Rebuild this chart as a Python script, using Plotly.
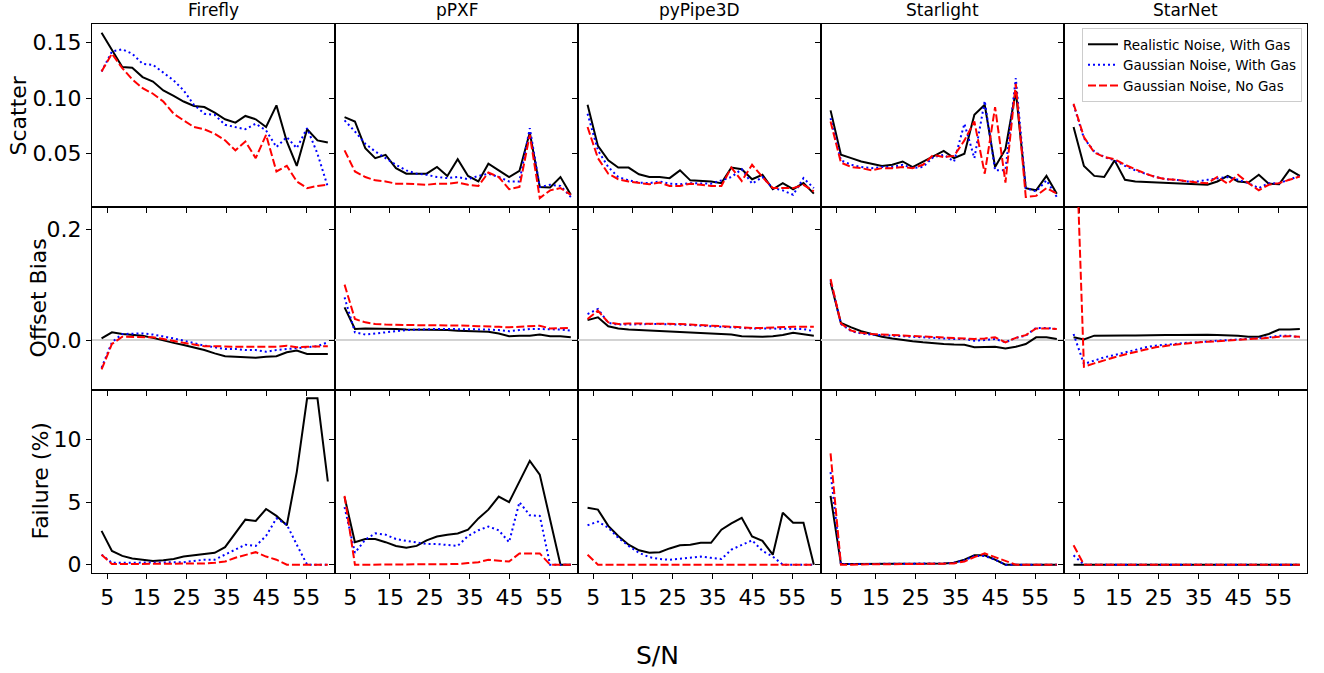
import plotly.graph_objects as go
from plotly.subplots import make_subplots

# ---------------- data ----------------
methods = ["Firefly", "pPXF", "pyPipe3D", "Starlight", "StarNet"]
series_names = ["Realistic Noise, With Gas", "Gaussian Noise, With Gas", "Gaussian Noise, No Gas"]
row_titles = ["Scatter", "Offset Bias", "Failure (%)"]
x_ticks = [5, 15, 25, 35, 45, 55]

sn = [3.6, 6.2, 8.8, 11.3, 13.9, 16.5, 19.1, 21.7, 24.2, 26.8, 29.4, 32.0,
      34.6, 37.2, 39.7, 42.3, 44.9, 47.5, 50.1, 52.6, 55.2, 57.8, 60.4]

# Scatter (row 1)
scatter_firefly_real = [0.159, 0.144, 0.128, 0.1275, 0.119, 0.115, 0.107, 0.102, 0.097, 0.093, 0.092, 0.087,
                        0.081, 0.078, 0.084, 0.081, 0.074, 0.0935, 0.061, 0.039, 0.072, 0.062, 0.060]
scatter_firefly_gwg = [0.124, 0.142, 0.144, 0.140, 0.131, 0.130, 0.123, 0.116, 0.107, 0.094, 0.086, 0.085,
                       0.076, 0.074, 0.072, 0.077, 0.071, 0.056, 0.065, 0.055, 0.073, 0.050, 0.020]
scatter_firefly_gng = [0.124, 0.140, 0.127, 0.117, 0.109, 0.104, 0.097, 0.086, 0.080, 0.074, 0.072, 0.068,
                       0.062, 0.053, 0.061, 0.046, 0.067, 0.034, 0.039, 0.025, 0.019, 0.021, 0.022]

scatter_ppxf_real = [0.083, 0.079, 0.055, 0.046, 0.049, 0.037, 0.032, 0.032, 0.032, 0.038, 0.030, 0.045,
                     0.030, 0.025, 0.041, 0.035, 0.029, 0.0345, 0.069, 0.020, 0.0195, 0.029, 0.013]
scatter_ppxf_gwg = [0.080, 0.070, 0.059, 0.052, 0.046, 0.040, 0.035, 0.032, 0.031, 0.029, 0.028, 0.029,
                    0.027, 0.030, 0.032, 0.029, 0.025, 0.025, 0.073, 0.020, 0.022, 0.021, 0.011]
scatter_ppxf_gng = [0.053, 0.034, 0.029, 0.026, 0.025, 0.023, 0.023, 0.0225, 0.022, 0.023, 0.023, 0.024,
                    0.022, 0.021, 0.033, 0.029, 0.018, 0.020, 0.067, 0.010, 0.017, 0.019, 0.013]

scatter_pypipe_real = [0.094, 0.057, 0.044, 0.0375, 0.0375, 0.0315, 0.029, 0.029, 0.028, 0.035, 0.026, 0.0255,
                       0.025, 0.0235, 0.0375, 0.036, 0.027, 0.031, 0.018, 0.0235, 0.018, 0.0235, 0.014]
scatter_pypipe_gwg = [0.086, 0.053, 0.038, 0.029, 0.026, 0.024, 0.0235, 0.025, 0.023, 0.0225, 0.0235, 0.0235,
                      0.023, 0.026, 0.029, 0.036, 0.023, 0.029, 0.019, 0.017, 0.013, 0.028, 0.019]
scatter_pypipe_gng = [0.074, 0.046, 0.032, 0.027, 0.025, 0.0235, 0.0225, 0.024, 0.021, 0.021, 0.023, 0.022,
                      0.021, 0.021, 0.0375, 0.0255, 0.040, 0.029, 0.019, 0.019, 0.019, 0.022, 0.016]

scatter_starlight_real = [0.089, 0.049, 0.046, 0.043, 0.041, 0.039, 0.040, 0.043, 0.038, 0.043, 0.048, 0.0525,
                          0.046, 0.050, 0.085, 0.094, 0.038, 0.054, 0.1065, 0.019, 0.017, 0.030, 0.014]
scatter_starlight_gwg = [0.082, 0.044, 0.040, 0.038, 0.037, 0.038, 0.038, 0.040, 0.037, 0.038, 0.047, 0.049,
                         0.043, 0.077, 0.046, 0.0975, 0.035, 0.035, 0.118, 0.019, 0.016, 0.026, 0.011]
scatter_starlight_gng = [0.079, 0.042, 0.038, 0.037, 0.035, 0.037, 0.037, 0.038, 0.037, 0.040, 0.049, 0.047,
                         0.048, 0.062, 0.079, 0.032, 0.092, 0.024, 0.113, 0.011, 0.012, 0.019, 0.014]

scatter_starnet_real = [0.074, 0.039, 0.030, 0.029, 0.044, 0.0265, 0.025, 0.0245, 0.024, 0.0235, 0.0235, 0.023,
                        0.0225, 0.022, 0.025, 0.030, 0.025, 0.024, 0.031, 0.023, 0.0225, 0.0355, 0.030]
scatter_starnet_gwg = [0.094, 0.064, 0.052, 0.047, 0.044, 0.039, 0.035, 0.032, 0.029, 0.027, 0.0265, 0.025,
                       0.025, 0.0265, 0.028, 0.029, 0.0265, 0.0235, 0.019, 0.0235, 0.0235, 0.027, 0.030]
scatter_starnet_gng = [0.095, 0.065, 0.051, 0.047, 0.045, 0.040, 0.036, 0.032, 0.029, 0.027, 0.0265, 0.025,
                       0.024, 0.0235, 0.029, 0.023, 0.031, 0.0235, 0.017, 0.022, 0.0235, 0.0265, 0.0295]

# Offset bias (row 2)
bias_firefly_real = [0.003, 0.014, 0.011, 0.010, 0.008, 0.004, -0.001, -0.005, -0.009, -0.013, -0.018, -0.024,
                     -0.029, -0.030, -0.031, -0.032, -0.030, -0.029, -0.022, -0.019, -0.025, -0.025, -0.025]
bias_firefly_gwg = [-0.050, -0.004, 0.011, 0.012, 0.012, 0.010, 0.007, 0.003, -0.001, -0.006, -0.010, -0.013,
                    -0.016, -0.016, -0.018, -0.018, -0.021, -0.018, -0.016, -0.014, -0.013, -0.011, -0.004]
bias_firefly_gng = [-0.053, -0.007, 0.006, 0.006, 0.006, 0.005, 0.002, -0.002, -0.005, -0.008, -0.011, -0.011,
                    -0.012, -0.012, -0.012, -0.012, -0.012, -0.012, -0.010, -0.013, -0.012, -0.011, -0.011]

bias_ppxf_real = [0.059, 0.020, 0.021, 0.021, 0.020, 0.020, 0.019, 0.019, 0.019, 0.018, 0.018, 0.017,
                  0.016, 0.015, 0.015, 0.012, 0.007, 0.008, 0.008, 0.010, 0.007, 0.007, 0.005]
bias_ppxf_gwg = [0.077, 0.014, 0.010, 0.012, 0.015, 0.017, 0.018, 0.019, 0.020, 0.020, 0.020, 0.020,
                 0.020, 0.019, 0.019, 0.018, 0.016, 0.018, 0.020, 0.020, 0.020, 0.019, 0.017]
bias_ppxf_gng = [0.100, 0.038, 0.032, 0.029, 0.028, 0.027, 0.027, 0.027, 0.027, 0.027, 0.027, 0.026,
                 0.026, 0.025, 0.025, 0.024, 0.023, 0.024, 0.025, 0.026, 0.021, 0.022, 0.022]

bias_pypipe_real = [0.036, 0.041, 0.025, 0.021, 0.019, 0.018, 0.017, 0.016, 0.016, 0.015, 0.014, 0.013,
                    0.012, 0.011, 0.010, 0.007, 0.006, 0.006, 0.007, 0.009, 0.013, 0.011, 0.008]
bias_pypipe_gwg = [0.047, 0.056, 0.031, 0.028, 0.028, 0.029, 0.029, 0.029, 0.029, 0.028, 0.027, 0.026,
                   0.025, 0.023, 0.022, 0.021, 0.021, 0.021, 0.021, 0.021, 0.021, 0.020, 0.016]
bias_pypipe_gng = [0.038, 0.053, 0.032, 0.029, 0.030, 0.030, 0.030, 0.030, 0.030, 0.029, 0.028, 0.027,
                   0.026, 0.025, 0.024, 0.022, 0.022, 0.022, 0.023, 0.024, 0.024, 0.024, 0.024]

bias_starlight_real = [0.104, 0.031, 0.023, 0.016, 0.011, 0.006, 0.003, 0.000, -0.002, -0.004, -0.006, -0.007,
                       -0.008, -0.0085, -0.013, -0.013, -0.012, -0.015, -0.012, -0.007, 0.005, 0.005, 0.002]
bias_starlight_gwg = [0.108, 0.029, 0.016, 0.012, 0.010, 0.009, 0.008, 0.006, 0.005, 0.004, 0.003, 0.003,
                      0.002, 0.002, -0.001, 0.000, 0.002, -0.004, 0.004, 0.008, 0.022, 0.022, 0.020]
bias_starlight_gng = [0.110, 0.030, 0.017, 0.013, 0.011, 0.010, 0.009, 0.008, 0.007, 0.006, 0.005, 0.004,
                      0.004, 0.003, 0.002, 0.003, 0.005, -0.004, 0.004, 0.009, 0.021, 0.021, 0.020]

bias_starnet_real = [0.005, 0.001, 0.008, 0.0085, 0.0085, 0.0085, 0.0085, 0.009, 0.009, 0.009, 0.009, 0.0095,
                     0.0095, 0.0095, 0.009, 0.009, 0.008, 0.006, 0.006, 0.011, 0.019, 0.019, 0.020]
bias_starnet_gwg = [0.011, -0.043, -0.037, -0.031, -0.027, -0.022, -0.018, -0.013, -0.010, -0.008, -0.007, -0.005,
                    -0.004, -0.002, -0.001, 0.000, 0.001, 0.002, 0.003, 0.005, 0.008, 0.008, 0.005]
bias_starnet_gng = [0.50, -0.048, -0.042, -0.036, -0.031, -0.026, -0.021, -0.017, -0.013, -0.010, -0.008, -0.006,
                    -0.004, -0.003, -0.002, -0.001, 0.000, 0.001, 0.002, 0.004, 0.006, 0.007, 0.006]

# Failure % (row 3)
fail_firefly_real = [2.7, 1.1, 0.7, 0.5, 0.4, 0.3, 0.35, 0.45, 0.65, 0.75, 0.8, 0.95,
                     1.4, 2.55, 3.6, 3.5, 4.45, 3.9, 3.15, 7.4, 13.3, 13.3, 6.65]
fail_firefly_gwg = [0.8, 0.15, 0.15, 0.15, 0.15, 0.15, 0.15, 0.15, 0.2, 0.3, 0.4, 0.4,
                    0.8, 1.2, 1.6, 1.5, 2.3, 3.7, 3.2, 1.6, 0.0, 0.0, 0.0]
fail_firefly_gng = [0.8, 0.05, 0.05, 0.05, 0.05, 0.05, 0.05, 0.05, 0.08, 0.1, 0.1, 0.15,
                    0.25, 0.55, 0.8, 1.0, 0.65, 0.4, 0.0, 0.0, 0.0, 0.0, 0.0]

fail_ppxf_real = [5.4, 1.8, 2.05, 2.05, 1.8, 1.5, 1.35, 1.5, 1.95, 2.25, 2.4, 2.5,
                  2.8, 3.7, 4.4, 5.45, 5.0, 6.7, 8.3, 7.2, 3.6, 0.0, 0.0]
fail_ppxf_gwg = [4.6, 0.95, 2.0, 2.5, 2.4, 2.05, 1.9, 1.75, 1.65, 1.65, 1.6, 1.5,
                 2.3, 2.75, 3.05, 2.75, 1.8, 5.0, 3.95, 3.9, 0.0, 0.0, 0.0]
fail_ppxf_gng = [5.5, 0.0, 0.0, 0.0, 0.0, 0.0, 0.0, 0.0, 0.0, 0.02, 0.03, 0.05,
                 0.13, 0.2, 0.4, 0.35, 0.25, 0.9, 0.9, 0.9, 0.0, 0.0, 0.0]

fail_pypipe_real = [4.55, 4.4, 3.1, 2.3, 1.6, 1.15, 0.95, 1.0, 1.3, 1.55, 1.6, 1.75,
                    1.75, 2.8, 3.3, 3.75, 2.25, 1.9, 0.8, 4.15, 3.35, 3.35, 0.0]
fail_pypipe_gwg = [3.15, 3.45, 2.95, 2.15, 1.5, 0.95, 0.6, 0.45, 0.4, 0.5, 0.55, 0.65,
                   0.55, 0.45, 1.2, 1.55, 1.95, 1.1, 0.65, 0.0, 0.0, 0.0, 0.0]
fail_pypipe_gng = [0.8, 0.0, 0.0, 0.0, 0.0, 0.0, 0.0, 0.0, 0.0, 0.0, 0.0, 0.0,
                   0.0, 0.0, 0.0, 0.0, 0.0, 0.0, 0.0, 0.0, 0.0, 0.0, 0.0]

fail_starlight_real = [5.5, 0.05, 0.05, 0.05, 0.05, 0.05, 0.05, 0.05, 0.05, 0.05, 0.05, 0.1,
                       0.15, 0.4, 0.75, 0.75, 0.4, 0.0, 0.0, 0.0, 0.0, 0.0, 0.0]
fail_starlight_gwg = [7.4, 0.05, 0.05, 0.05, 0.05, 0.05, 0.05, 0.05, 0.05, 0.05, 0.05, 0.1,
                      0.15, 0.35, 0.7, 0.7, 0.4, 0.0, 0.0, 0.0, 0.0, 0.0, 0.0]
fail_starlight_gng = [8.9, 0.0, 0.0, 0.03, 0.03, 0.03, 0.03, 0.03, 0.03, 0.05, 0.05, 0.08,
                      0.1, 0.25, 0.6, 0.9, 0.6, 0.3, 0.0, 0.0, 0.0, 0.0, 0.0]

fail_starnet_real = [0.0] * 23
fail_starnet_gwg = [0.75, 0.0, 0.0, 0.0, 0.0, 0.0, 0.0, 0.0, 0.0, 0.0, 0.0, 0.0,
                    0.0, 0.0, 0.0, 0.0, 0.0, 0.0, 0.0, 0.0, 0.0, 0.0, 0.0]
fail_starnet_gng = [1.55, 0.0, 0.0, 0.0, 0.0, 0.0, 0.0, 0.0, 0.0, 0.0, 0.0, 0.0,
                    0.0, 0.0, 0.0, 0.0, 0.0, 0.0, 0.0, 0.0, 0.0, 0.0, 0.0]

data = [
    [  # scatter
        [scatter_firefly_real, scatter_firefly_gwg, scatter_firefly_gng],
        [scatter_ppxf_real, scatter_ppxf_gwg, scatter_ppxf_gng],
        [scatter_pypipe_real, scatter_pypipe_gwg, scatter_pypipe_gng],
        [scatter_starlight_real, scatter_starlight_gwg, scatter_starlight_gng],
        [scatter_starnet_real, scatter_starnet_gwg, scatter_starnet_gng],
    ],
    [  # offset bias
        [bias_firefly_real, bias_firefly_gwg, bias_firefly_gng],
        [bias_ppxf_real, bias_ppxf_gwg, bias_ppxf_gng],
        [bias_pypipe_real, bias_pypipe_gwg, bias_pypipe_gng],
        [bias_starlight_real, bias_starlight_gwg, bias_starlight_gng],
        [bias_starnet_real, bias_starnet_gwg, bias_starnet_gng],
    ],
    [  # failure
        [fail_firefly_real, fail_firefly_gwg, fail_firefly_gng],
        [fail_ppxf_real, fail_ppxf_gwg, fail_ppxf_gng],
        [fail_pypipe_real, fail_pypipe_gwg, fail_pypipe_gng],
        [fail_starlight_real, fail_starlight_gwg, fail_starlight_gng],
        [fail_starnet_real, fail_starnet_gwg, fail_starnet_gng],
    ],
]

# ---------------- styling ----------------
FONT = "DejaVu Sans"
colors = ["black", "blue", "red"]
dashes = ["solid", "2px,3px", "8px,3px"]
y_ranges = [[0.002, 0.1668], [-0.090, 0.240], [-0.665, 13.965]]
y_ticks = [[0.05, 0.10, 0.15], [0.0, 0.2], [0, 5, 10]]
y_fmt = [".2f", ".1f", "d"]
x_range = [1.2, 62.2]

fig = make_subplots(rows=3, cols=5, horizontal_spacing=0, vertical_spacing=0)

for r in range(3):
    for c in range(5):
        for k in range(3):
            fig.add_trace(
                go.Scatter(
                    x=sn, y=data[r][c][k], mode="lines", name=series_names[k],
                    line=dict(color=colors[k], width=2, dash=dashes[k]),
                    showlegend=(r == 0 and c == 4), legendgroup=series_names[k],
                ),
                row=r + 1, col=c + 1,
            )
        fig.update_xaxes(
            row=r + 1, col=c + 1, range=x_range, tickvals=x_ticks,
            showticklabels=(r == 2), ticks="outside", ticklen=5, tickwidth=1,
            tickcolor="black", showline=True, linecolor="black", linewidth=1,
            mirror=True, showgrid=False, zeroline=False,
            tickfont=dict(family=FONT, size=22, color="black"),
        )
        fig.update_yaxes(
            row=r + 1, col=c + 1, range=y_ranges[r], tickvals=y_ticks[r],
            tickformat=y_fmt[r], showticklabels=(c == 0), ticks="outside",
            ticklen=5, tickwidth=1, tickcolor="black", showline=True,
            linecolor="black", linewidth=1, mirror=True, showgrid=False,
            zeroline=(r == 1), zerolinecolor="#d3d3d3", zerolinewidth=2,
            tickfont=dict(family=FONT, size=22, color="black"),
        )

L, R, T, B = 92, 17, 24, 100
W, H = 1324, 673
pw, ph = W - L - R, H - T - B

def px_x(p):
    return (p - L) / pw

def px_y(p):
    return 1 - (p - T) / ph

annotations = []
for c, m in enumerate(methods):
    annotations.append(dict(
        text=m, xref="paper", yref="paper", x=(c + 0.5) / 5, y=1,
        xanchor="center", yanchor="bottom", yshift=2, showarrow=False,
        font=dict(family=FONT, size=17, color="black"),
    ))
ylab_x = [18, 38, 40]
for r, t in enumerate(row_titles):
    annotations.append(dict(
        text=t, xref="paper", yref="paper", x=px_x(ylab_x[r]),
        y=1 - (r + 0.5) / 3, xanchor="center", yanchor="middle",
        textangle=-90, showarrow=False,
        font=dict(family=FONT, size=22, color="black"),
    ))
annotations.append(dict(
    text="S/N", xref="paper", yref="paper", x=px_x(657), y=px_y(655),
    xanchor="center", yanchor="middle", showarrow=False,
    font=dict(family=FONT, size=25, color="black"),
))

fig.update_layout(
    width=W, height=H,
    margin=dict(l=L, r=R, t=T, b=B),
    paper_bgcolor="white", plot_bgcolor="white",
    font=dict(family=FONT, color="black"),
    annotations=annotations,
    legend=dict(
        x=px_x(1302), y=px_y(28), xanchor="right", yanchor="top",
        bgcolor="rgba(255,255,255,0.8)", bordercolor="#cccccc", borderwidth=1,
        font=dict(family=FONT, size=13.5, color="black"),
        itemwidth=30, tracegroupgap=0,
    ),
)

fig.write_html(
    "out.html",
    config={"displayModeBar": False},
    post_script="document.body.style.margin='0';document.body.style.padding='0';document.body.style.overflow='hidden';",
)
